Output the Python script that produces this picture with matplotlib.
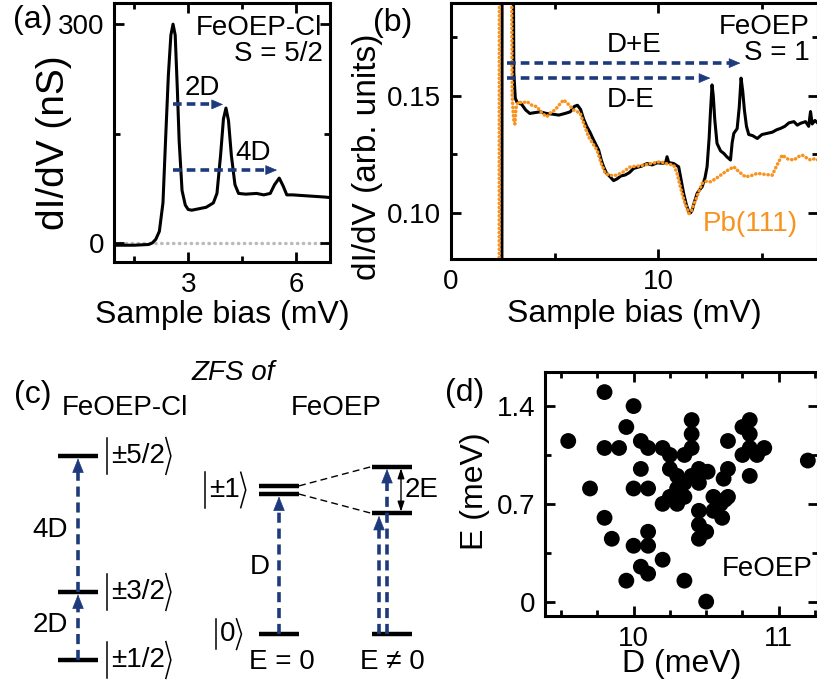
import numpy as np
import matplotlib.pyplot as plt
from matplotlib.ticker import MultipleLocator, FixedLocator, FixedFormatter

plt.rcParams['font.family'] = ['Liberation Sans', 'DejaVu Sans']
plt.rcParams['mathtext.fontset'] = 'custom'
plt.rcParams['mathtext.rm'] = 'Liberation Sans'
plt.rcParams['mathtext.it'] = 'Liberation Sans:italic'
plt.rcParams['font.size'] = 20

NAVY = '#1d3a7c'
ORANGE = '#f7931e'
LABEL_SIZE = 23

# (a) FeOEP-Cl spectrum
bias_a = [1.0, 1.5, 1.9, 2.0, 2.1, 2.2, 2.3, 2.38, 2.45, 2.52, 2.58, 2.64, 2.7, 2.75,
          2.83, 2.92, 3.0, 3.1, 3.3, 3.5, 3.7, 3.8, 3.9, 3.98, 4.05, 4.12, 4.2, 4.3,
          4.4, 4.6, 4.9, 5.1, 5.28, 5.4, 5.53, 5.64, 5.74, 5.9, 6.2, 6.5, 6.8, 7.0]
didv_a = [-3, -3, -2, 0, 5, 16, 55, 150, 230, 285, 300, 285, 210, 140,
          72, 52, 46, 45, 47, 49, 55, 68, 120, 170, 185, 168, 120, 80,
          68, 67, 68, 66, 68, 80, 89, 78, 66, 66, 65, 64, 63, 62]

# (b) FeOEP on Pb(111) and bare Pb(111)
bias_b_mol = [2.0, 2.45, 2.47, 2.96, 3.03, 3.1, 3.2, 3.4, 3.6, 3.8, 4.0, 4.3, 4.6, 4.9,
              5.2, 5.5, 5.75, 5.95, 6.1, 6.25, 6.4, 6.55, 6.7, 6.88, 7.0, 7.12, 7.25,
              7.36, 7.5, 7.68, 7.84, 8.0, 8.2, 8.4, 8.6, 8.81, 9.0, 9.2, 9.45, 9.7,
              9.94, 10.2, 10.35, 10.42, 10.5, 10.74, 10.98, 11.1, 11.22, 11.35, 11.47,
              11.55, 11.63, 11.75, 11.87, 12.0, 12.11, 12.25, 12.35, 12.45, 12.51,
              12.59, 12.65, 12.72, 12.83, 13.0, 13.16, 13.3, 13.48, 13.56, 13.64,
              13.8, 13.9, 13.99, 14.07, 14.15, 14.25, 14.36, 14.55, 14.77, 15.0,
              15.25, 15.5, 15.7, 15.89, 16.1, 16.3, 16.54, 16.7, 16.86, 17.1, 17.25,
              17.34, 17.42, 17.55, 17.7]
didv_b_mol = [0.0, 0.0, 0.30, 0.30, 0.160, 0.149, 0.147, 0.1465, 0.144, 0.1425, 0.1428,
              0.1432, 0.1425, 0.1422, 0.1418, 0.1425, 0.1432, 0.1455, 0.146, 0.1442,
              0.140, 0.1369, 0.1345, 0.1311, 0.129, 0.1269, 0.1225, 0.1197, 0.117,
              0.1154, 0.1138, 0.1145, 0.1158, 0.1162, 0.1172, 0.119, 0.1195, 0.120,
              0.1211, 0.1205, 0.1214, 0.1212, 0.1215, 0.124, 0.1215, 0.1211, 0.1197,
              0.114, 0.1083, 0.1035, 0.1004, 0.100, 0.1011, 0.105, 0.1083, 0.110,
              0.1111, 0.115, 0.1197, 0.132, 0.1426, 0.1547, 0.150, 0.140, 0.1297,
              0.1265, 0.1254, 0.124, 0.1226, 0.130, 0.134, 0.136, 0.145, 0.1576,
              0.152, 0.144, 0.137, 0.1335, 0.133, 0.1318, 0.1335, 0.134, 0.1345,
              0.1355, 0.1361, 0.137, 0.1385, 0.139, 0.1375, 0.1383, 0.139, 0.137,
              0.1433, 0.138, 0.1395, 0.1383]
bias_b_pb = [2.0, 2.32, 2.34, 2.88, 2.95, 3.02, 3.08, 3.14, 3.25, 3.45, 3.66, 3.9, 4.14,
             4.4, 4.62, 4.82, 5.02, 5.25, 5.43, 5.65, 5.91, 6.1, 6.23, 6.45, 6.63, 6.85,
             7.04, 7.25, 7.44, 7.7, 8.0, 8.3, 8.65, 9.0, 9.29, 9.7, 10.1, 10.4, 10.74,
             10.9, 11.06, 11.25, 11.47, 11.6, 11.79, 11.95, 12.11, 12.3, 12.51, 12.75,
             13.0, 13.3, 13.64, 13.9, 14.2, 14.5, 14.77, 15.1, 15.49, 15.7, 15.97,
             16.25, 16.54, 16.75, 16.94, 17.15, 17.34, 17.55, 17.7]
didv_b_pb = [0.0, 0.0, 0.30, 0.30, 0.150, 0.140, 0.138, 0.145, 0.1475, 0.147, 0.1476,
             0.146, 0.1454, 0.1425, 0.1411, 0.143, 0.144, 0.1465, 0.1483, 0.1465,
             0.144, 0.1432, 0.1426, 0.137, 0.1326, 0.1295, 0.1269, 0.121, 0.1169,
             0.116, 0.1161, 0.1175, 0.1197, 0.120, 0.1204, 0.1212, 0.1219, 0.121,
             0.1204, 0.117, 0.1111, 0.105, 0.0997, 0.101, 0.1054, 0.109, 0.1126,
             0.1135, 0.1133, 0.1145, 0.1161, 0.118, 0.1197, 0.1175, 0.1154, 0.116,
             0.1169, 0.1165, 0.1161, 0.120, 0.1247, 0.123, 0.1226, 0.124, 0.1247,
             0.1235, 0.1226, 0.1232, 0.1226]

# (c) level scheme, energies in diagram units
cl_levels = [0, 2, 6]
cl_kets = ['±1/2', '±3/2', '±5/2']
feoep_ground = 0.76
feoep_D = 4.24
feoep_E = 0.69

# (d) ZFS parameters of individual FeOEP molecules
zfs_D = [9.55, 9.80, 10.00, 9.95, 9.80, 9.90, 10.05, 10.10, 10.20, 10.25, 10.40, 10.40,
         10.40, 10.35, 10.65, 10.75, 10.80, 10.80, 10.80, 10.75, 10.85, 10.90, 10.80,
         11.20, 9.70, 10.00, 10.10, 10.05, 10.25, 10.30, 10.45, 10.51, 10.40, 10.35,
         10.45, 10.65, 10.62, 10.30, 10.25, 10.35, 10.20, 10.30, 10.55, 10.65, 10.55,
         10.60, 10.63, 10.45, 10.61, 10.45, 10.50, 10.45, 9.80, 9.85, 10.00, 10.10,
         10.10, 10.05, 10.10, 10.20, 9.95, 10.35, 10.50]
zfs_E = [1.15, 1.50, 1.40, 1.25, 1.10, 1.10, 1.15, 1.10, 1.10, 1.05, 1.30, 1.20,
         1.10, 1.05, 1.15, 1.25, 1.30, 1.20, 1.10, 1.05, 1.05, 1.10, 0.90,
         1.01, 0.81, 0.81, 0.81, 0.95, 0.95, 0.90, 0.95, 0.93, 0.90, 0.85,
         0.85, 0.95, 0.88, 0.81, 0.75, 0.75, 0.70, 0.70, 0.75, 0.75, 0.65,
         0.70, 0.73, 0.65, 0.60, 0.55, 0.50, 0.45, 0.60, 0.45, 0.40, 0.50,
         0.40, 0.25, 0.20, 0.30, 0.15, 0.15, 0.00]


def style_axes(ax):
    for spine in ax.spines.values():
        spine.set_linewidth(2.2)
    ax.tick_params(which='both', direction='in', top=True, right=True, width=2, pad=7)
    ax.tick_params(which='major', length=7)
    ax.tick_params(which='minor', length=4)


def dashed_arrow(ax, start, end, lw=2.6, head_len=0.75, head_wid=0.32, dash=(2.4, 1.4)):
    """Dashed navy shaft with a solid filled head; limits must be set already."""
    p0 = ax.transData.transform(start)
    p1 = ax.transData.transform(end)
    d = (p1 - p0) / np.hypot(*(p1 - p0))
    head_px = head_len * 10 * fig.dpi / 72
    inv = ax.transData.inverted()
    shaft_end = inv.transform(p1 - d * head_px * 0.6)
    base = inv.transform(p1 - d * head_px)
    ax.plot([start[0], shaft_end[0]], [start[1], shaft_end[1]], color=NAVY, lw=lw,
            linestyle=(0, dash), solid_capstyle='butt', dash_capstyle='butt')
    ax.annotate('', xy=end, xytext=base,
                arrowprops=dict(arrowstyle='-|>,head_length=%g,head_width=%g'
                                % (head_len, head_wid),
                                color=NAVY, lw=0.5, shrinkA=0, shrinkB=0,
                                mutation_scale=10))


def ket(ax, x_bar, y, content, half_h=0.54, tip=5):
    """Draw |content> with a tall thin bar and angle bracket."""
    t = ax.text(x_bar + 4, y, content, ha='left', va='center', fontsize=20)
    renderer = fig.canvas.get_renderer()
    bb = t.get_window_extent(renderer).transformed(ax.transData.inverted())
    x_r = bb.x1 + 1
    ax.plot([x_bar, x_bar], [y - half_h, y + half_h], color='k', lw=1.1)
    ax.plot([x_r, x_r + tip, x_r], [y + half_h, y, y - half_h], color='k', lw=1.1)


fig = plt.figure(figsize=(8.17, 6.82), dpi=100)

# ---- (a)
ax_a = fig.add_axes([114 / 817, 1 - 262 / 682, 216 / 817, 259 / 682])
ax_a.axhline(0, color='#bbbbbb', lw=2.5, linestyle=(0, (0.1, 1.6)),
             dash_capstyle='round', zorder=0)
ax_a.plot(bias_a, didv_a, color='k', lw=2.2)
ax_a.set_xlim(0.94, 6.94)
ax_a.set_ylim(-26, 329)
ax_a.xaxis.set_major_locator(FixedLocator([3, 6]))
ax_a.xaxis.set_minor_locator(MultipleLocator(1.5))
ax_a.yaxis.set_major_locator(FixedLocator([0, 300]))
ax_a.yaxis.set_minor_locator(MultipleLocator(150))
style_axes(ax_a)
ax_a.set_xlabel('Sample bias (mV)', fontsize=LABEL_SIZE)
ax_a.set_ylabel('dI/dV (nS)', fontsize=28)
ax_a.xaxis.set_label_coords(0.5, -0.145)
ax_a.yaxis.set_label_coords(-0.195, 0.46)
dashed_arrow(ax_a, (2.58, 190), (3.97, 190))
dashed_arrow(ax_a, (2.58, 100), (5.47, 100))
ax_a.text(3.4, 212, '2D', ha='center', va='center')
ax_a.text(4.8, 123, '4D', ha='center', va='center')
ax_a.text(0.965, 0.905, 'FeOEP-Cl', transform=ax_a.transAxes, ha='right', va='center')
ax_a.text(0.965, 0.805, 'S = 5/2', transform=ax_a.transAxes, ha='right', va='center')
fig.text(33 / 817, 1 - 20 / 682, '(a)', ha='center', va='center', fontsize=LABEL_SIZE)

# ---- (b)
ax_b = fig.add_axes([451 / 817, 1 - 259 / 682, 367 / 817, 256 / 682])
ax_b.plot(bias_b_mol, didv_b_mol, color='k', lw=2.2)
ax_b.plot(bias_b_pb, didv_b_pb, color=ORANGE, lw=2.5, linestyle=(0, (0.1, 1.1)),
          dash_capstyle='round')
ax_b.set_xlim(0, 17.7)
ax_b.set_ylim(0.0803, 0.1897)
ax_b.xaxis.set_major_locator(FixedLocator([0, 10]))
ax_b.xaxis.set_minor_locator(MultipleLocator(5))
ax_b.yaxis.set_major_locator(FixedLocator([0.10, 0.15]))
ax_b.yaxis.set_major_formatter(FixedFormatter(['0.10', '0.15']))
ax_b.yaxis.set_minor_locator(MultipleLocator(0.025))
style_axes(ax_b)
ax_b.set_xlabel('Sample bias (mV)', fontsize=LABEL_SIZE)
ax_b.set_ylabel('dI/dV (arb. units)', fontsize=24)
ax_b.xaxis.set_label_coords(0.5, -0.155)
ax_b.yaxis.set_label_coords(-0.185, 0.4)
dashed_arrow(ax_b, (2.69, 0.164), (13.96, 0.164))
dashed_arrow(ax_b, (2.69, 0.1576), (12.51, 0.1576))
ax_b.text(8.81, 0.1719, 'D+E', ha='center', va='center')
ax_b.text(8.65, 0.1483, 'D-E', ha='center', va='center')
ax_b.text(14.45, 0.0954, 'Pb(111)', color=ORANGE, ha='center', va='center')
ax_b.text(0.978, 0.906, 'FeOEP', transform=ax_b.transAxes, ha='right', va='center')
ax_b.text(0.978, 0.805, 'S = 1', transform=ax_b.transAxes, ha='right', va='center')
fig.text(393 / 817, 1 - 23 / 682, '(b)', ha='center', va='center', fontsize=LABEL_SIZE)

# ---- (c) level scheme
ax_c = fig.add_axes([0, 0, 440 / 817, 342 / 682])
ax_c.set_xlim(0, 440)
ax_c.set_ylim(-0.647, 9.41)
ax_c.axis('off')
lvl_lw = 3.2
c_arrow = dict(lw=2.6, head_len=0.95, head_wid=0.38, dash=(2.8, 1.6))

cl_x = (58, 98)
ax_c.hlines(cl_levels, *cl_x, color='k', lw=lvl_lw)
for e, content in zip(cl_levels, cl_kets):
    ket(ax_c, 107, e, content)
for e0, e1 in zip(cl_levels[:-1], cl_levels[1:]):
    dashed_arrow(ax_c, (78, e0), (78, e1 - 0.07), **c_arrow)
ax_c.text(50, 3.82, '4D', ha='center', va='center')
ax_c.text(50, 1.03, '2D', ha='center', va='center')

e0_x = (259, 299)
e_mid = feoep_ground + feoep_D
ax_c.hlines([feoep_ground, e_mid - 0.12, e_mid + 0.12], *e0_x, color='k', lw=lvl_lw)
ket(ax_c, 205, e_mid, '±1', half_h=0.52)
ket(ax_c, 216, feoep_ground, '0', half_h=0.45)
dashed_arrow(ax_c, (279, feoep_ground), (279, e_mid - 0.19), **c_arrow)
ax_c.text(260, 2.74, 'D', ha='center', va='center')
ax_c.text(282, -0.06, 'E = 0', ha='center', va='center')

en_x = (372, 412)
split = [e_mid - feoep_E, e_mid + feoep_E]
ax_c.hlines([feoep_ground] + split, *en_x, color='k', lw=lvl_lw)
ax_c.plot([e0_x[1], en_x[0]], [e_mid + 0.12, split[1]], color='k', lw=1,
          linestyle=(0, (5, 3)))
ax_c.plot([e0_x[1], en_x[0]], [e_mid - 0.12, split[0]], color='k', lw=1,
          linestyle=(0, (5, 3)))
dashed_arrow(ax_c, (379, feoep_ground), (379, split[0] - 0.07), **c_arrow)
dashed_arrow(ax_c, (387, feoep_ground), (387, split[1] - 0.07), **c_arrow)
ax_c.annotate('', xy=(401, split[1] - 0.05), xytext=(401, split[0] + 0.05),
              arrowprops=dict(arrowstyle='<|-|>,head_length=0.6,head_width=0.2',
                              color='k', lw=1, shrinkA=0, shrinkB=0, mutation_scale=10))
ax_c.text(405, e_mid, '2E', ha='left', va='center')
ax_c.text(392, -0.06, 'E ≠ 0', ha='center', va='center')

ax_c.text(233, 8.44, 'ZFS of', ha='center', va='center', style='italic')
ax_c.text(33, 7.79, '(c)', ha='center', va='center', fontsize=LABEL_SIZE)
ax_c.text(125, 7.41, 'FeOEP-Cl', ha='center', va='center')
ax_c.text(336, 7.41, 'FeOEP', ha='center', va='center')

# ---- (d)
ax_d = fig.add_axes([545 / 817, 1 - 616 / 682, 273 / 817, 244 / 682])
ax_d.scatter(zfs_D, zfs_E, s=130, color='k', edgecolors='none', zorder=3)
ax_d.set_xlim(9.39, 11.27)
ax_d.set_ylim(-0.103, 1.644)
ax_d.xaxis.set_major_locator(FixedLocator([10, 11]))
ax_d.xaxis.set_minor_locator(MultipleLocator(0.25))
ax_d.yaxis.set_major_locator(FixedLocator([0, 0.7, 1.4]))
ax_d.yaxis.set_major_formatter(FixedFormatter(['0', '0.7', '1.4']))
ax_d.yaxis.set_minor_locator(MultipleLocator(0.35))
style_axes(ax_d)
ax_d.set_xlabel('D (meV)', fontsize=LABEL_SIZE)
ax_d.set_ylabel('E (meV)', fontsize=LABEL_SIZE)
ax_d.xaxis.set_label_coords(0.5, -0.135)
ax_d.yaxis.set_label_coords(-0.2, 0.51)
ax_d.text(10.92, 0.23, 'FeOEP', ha='center', va='center')
fig.text(465 / 817, 1 - 393 / 682, '(d)', ha='center', va='center', fontsize=LABEL_SIZE)

fig.savefig('out.png', dpi=100)
